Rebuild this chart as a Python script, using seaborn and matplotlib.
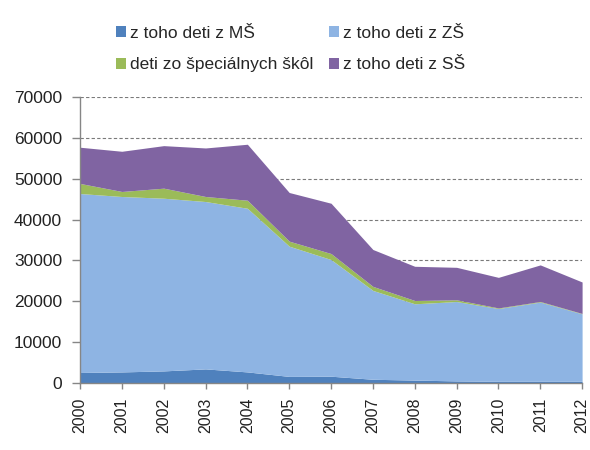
import matplotlib
matplotlib.use("Agg")
import matplotlib.pyplot as plt
from matplotlib.patches import Patch
import seaborn as sns

years = [2000, 2001, 2002, 2003, 2004, 2005, 2006, 2007, 2008, 2009, 2010, 2011, 2012]
deti_ms = [2560, 2700, 2950, 3440, 2700, 1600, 1650, 900, 700, 500, 400, 400, 400]
deti_zs = [43800, 42930, 42260, 40960, 40050, 31870, 28550, 21740, 18670, 19430, 17810, 19390, 16510]
deti_spec = [2470, 1230, 2460, 1230, 1970, 1230, 1470, 990, 810, 420, 150, 150, 90]
deti_ss = [8860, 9840, 10410, 11880, 13700, 11910, 12310, 9030, 8370, 7950, 7480, 8950, 7710]

labels = ["z toho deti z MŠ", "z toho deti z ZŠ", "deti zo špeciálnych škôl", "z toho deti z SŠ"]
colors = ["#4F81BD", "#8EB4E3", "#9BBB59", "#8064A2"]

sns.set_theme(style="white")
plt.rcParams["font.family"] = ["Liberation Sans", "DejaVu Sans"]

fig = plt.figure(figsize=(5.9, 4.5), dpi=100)
ax = fig.add_axes([0.1356, 0.149, 0.851, 0.6356])

ax.stackplot(years, deti_ms, deti_zs, deti_spec, deti_ss, colors=colors, linewidth=0, zorder=2)

ax.set_xlim(2000, 2012)
ax.set_ylim(0, 70000)
ax.set_xticks(years)
ax.set_xticklabels([str(y) for y in years], rotation=90)
ax.set_yticks(range(0, 70001, 10000))

for v in range(10000, 70001, 10000):
    ax.axhline(v, color="#7a7a7a", linestyle=(0, (3, 2)), linewidth=0.8, zorder=1)

for side in ("top", "right"):
    ax.spines[side].set_visible(False)
for side in ("left", "bottom"):
    ax.spines[side].set_color("#868686")
    ax.spines[side].set_linewidth(1.0)
    ax.spines[side].set_zorder(3)

ax.tick_params(axis="y", direction="out", length=5.8, width=1, color="#868686",
               labelsize=12.5, labelcolor="#222222", left=True, pad=7)
ax.tick_params(axis="x", direction="out", length=4.3, width=1, color="#868686",
               labelsize=11.5, labelcolor="#222222", bottom=True, pad=6.5)

handles = [Patch(facecolor=c, edgecolor="none") for c in colors]
order = [0, 2, 1, 3]
fig.legend([handles[i] for i in order], [labels[i] for i in order],
           loc="upper left", bbox_to_anchor=(116 / 590, 1 - 26 / 450), ncol=2, frameon=False,
           fontsize=12.5, handlelength=0.58, handleheight=0.58, handletextpad=0.25,
           columnspacing=0.86, labelspacing=0.95, borderpad=0, borderaxespad=0)

fig.savefig("out.png", dpi=100)
